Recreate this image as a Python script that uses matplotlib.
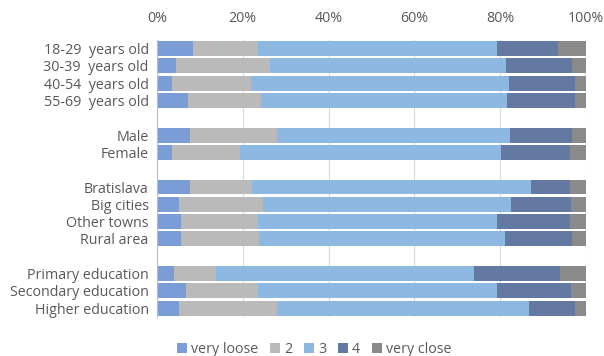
import matplotlib
matplotlib.use("Agg")
import matplotlib.pyplot as plt
import numpy as np

groups = [
    ["18-29  years old", "30-39  years old", "40-54  years old", "55-69  years old"],
    ["Male", "Female"],
    ["Bratislava", "Big cities", "Other towns", "Rural area"],
    ["Primary education", "Secondary education", "Higher education"],
]
series_names = ["very loose", "2", "3", "4", "very close"]
very_loose = [8.4, 4.4, 3.5, 7.2, 7.6, 3.5, 7.8, 5.1, 5.7, 5.7, 4.0, 6.7, 5.1]
two        = [15.1, 21.9, 18.4, 17.1, 20.4, 15.8, 14.4, 19.6, 17.8, 18.0, 9.8, 16.8, 22.9]
three      = [55.7, 55.1, 60.1, 57.3, 54.2, 60.9, 64.9, 57.9, 55.7, 57.4, 60.2, 55.7, 58.7]
four       = [14.3, 15.4, 15.4, 15.8, 14.6, 16.0, 9.1, 13.9, 17.1, 15.7, 20.0, 17.3, 10.8]
very_close = [6.5, 3.2, 2.6, 2.6, 3.2, 3.8, 3.8, 3.5, 3.7, 3.2, 6.0, 3.5, 2.5]
colors = ["#7b9dd7", "#bababa", "#8cb8e2", "#6479a1", "#8a8a8a"]

labels = []
ypos = []
pos = 0
for gi, g in enumerate(groups):
    for lab in g:
        labels.append(lab)
        ypos.append(pos)
        pos += 1
    pos += 1
ypos = np.array(ypos)

plt.rcParams['font.family'] = ['Open Sans', 'DejaVu Sans']
fig = plt.figure(figsize=(6.04, 3.56), dpi=100)
ax = fig.add_axes([0.26, 0.11, 0.71, 0.778])

data = [very_loose, two, three, four, very_close]
left = np.zeros(len(labels))
for name, vals, c in zip(series_names, data, colors):
    vals = np.array(vals)
    ax.barh(ypos, vals, left=left, height=0.86, color=c, label=name, zorder=2)
    left += vals

fs = 10.3
ax.set_xlim(0, 100)
ax.set_ylim(pos - 1 - 0.5, -0.5)
ax.set_yticks(ypos)
ax.set_yticklabels(labels, fontsize=fs, color="#595959")
ax.xaxis.tick_top()
ax.set_xticks(np.arange(0, 101, 20))
ax.set_xticklabels([f"{v}%" for v in range(0, 101, 20)], fontsize=fs, color="#595959")
ax.tick_params(length=0, pad=6)
ax.tick_params(axis='x', pad=10)
ax.grid(axis='x', color="#d9d9d9", linewidth=0.8, zorder=0)
for s in ["top", "right", "bottom"]:
    ax.spines[s].set_visible(False)
ax.spines["left"].set_color("#bfbfbf")

fig.legend(loc="lower center", bbox_to_anchor=(0.52, -0.04), ncol=5, frameon=False,
           fontsize=fs, handlelength=0.7, handleheight=0.7, handletextpad=0.3,
           columnspacing=0.8, labelcolor="#595959")

fig.savefig("out.png", dpi=100)
